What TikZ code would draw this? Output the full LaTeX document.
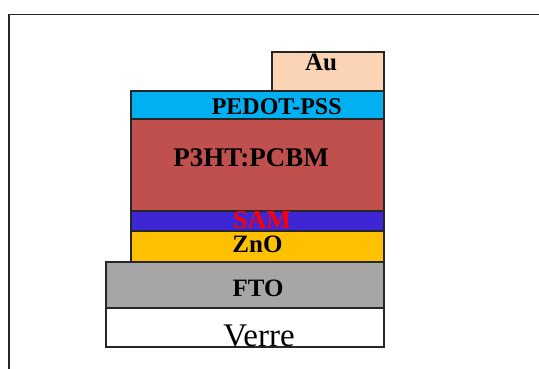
\documentclass[tikz,border=0pt]{standalone}
\usepackage{fontspec}
\setmainfont{Liberation Serif}
\usepackage{tikz}
\usetikzlibrary{positioning}
\usepackage{xcolor}

\definecolor{auC}{HTML}{FAD4B4}
\definecolor{pedotC}{HTML}{00B0F0}
\definecolor{polyC}{HTML}{C0504D}
\definecolor{samC}{HTML}{3D26D4}
\definecolor{znoC}{HTML}{FFC000}
\definecolor{ftoC}{HTML}{A6A6A6}

\begin{document}
\begin{tikzpicture}[
  x=1pt, y=-1pt,
  layer/.style={draw=black!85, line width=1.2pt, inner sep=0pt, outer sep=0pt,
    anchor=north west},
  tag/.style={anchor=base, inner sep=0pt, font=\fontsize{25}{30}\selectfont\bfseries},
  plain/.style={anchor=base, inner sep=0pt, font=\fontsize{33}{38}\selectfont}
]
\useasboundingbox (0,0) rectangle (539,369);

% frame
\draw[line width=1.4pt, black!85] (539,14.5) -- (9,14.5) -- (9,369);

% stack, bottom to top
\node[layer, fill=white, minimum width=278pt, minimum height=39pt] (verre) at (106,308) {};
\node[layer, fill=ftoC, minimum width=278pt, minimum height=46pt] (fto) at (106,262) {};
\node[layer, fill=znoC, minimum width=253pt, minimum height=31pt] (zno) at (131,231) {};
\node[layer, fill=samC, minimum width=253pt, minimum height=20pt] (sam) at (131,211) {};
\node[layer, fill=polyC, minimum width=253pt, minimum height=92pt] (p3ht) at (131,119) {};
\node[layer, fill=pedotC, minimum width=253pt, minimum height=28pt] (pedot) at (131,91) {};
\node[layer, fill=auC, minimum width=112pt, minimum height=39pt] (au) at (272,52) {};

% labels
\node[tag] (autxt) at (321,70.7) {Au};
\node[tag, font=\fontsize{24}{30}\selectfont\bfseries] (pedottxt) at (276.7,114) {PEDOT-PSS};
\node[tag, font=\fontsize{27}{32}\selectfont\bfseries] (p3httxt) at (251,166.7) {P3HT:PCBM};
\node[tag, red, font=\fontsize{26}{30}\selectfont\bfseries] (samtxt) at (262,228) {SAM};
\node[tag] (znotxt) at (257.5,252) {ZnO};
\node[tag] (ftotxt) at (258,296.7) {FTO};
\node[plain] (verretxt) at (259,346) {Verre};
\end{tikzpicture}
\end{document}
